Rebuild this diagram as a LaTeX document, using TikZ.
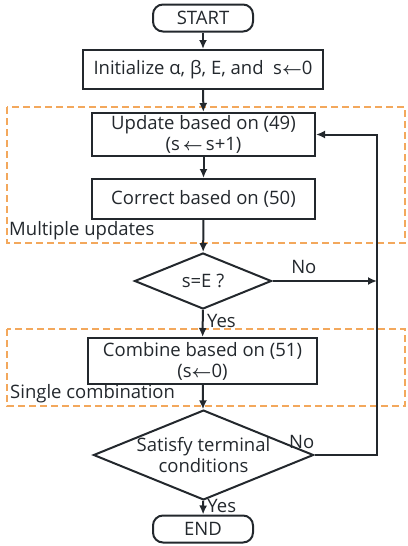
\documentclass[tikz,border=0pt]{standalone}
\usepackage{amsmath}
\usepackage{fontspec}
\setmainfont{Open Sans}
\usetikzlibrary{shapes.geometric,arrows.meta}
\definecolor{grouporange}{RGB}{243,168,92}
\definecolor{linegray}{RGB}{35,40,45}
\newcommand{\getsarrow}{\(\boldsymbol{\leftarrow}\)}

\begin{document}
\begin{tikzpicture}[
x=1pt,y=-1pt,
font=\fontsize{18.5}{21}\selectfont,
every node/.style={text=linegray},
>={Latex[length=9pt,width=8pt]},
procbox/.style={rectangle, draw=linegray, line width=2pt, minimum width=223pt, minimum height=42pt, align=center, inner sep=2pt},
termbox/.style={rectangle, rounded corners=10pt, draw=linegray, line width=2pt, minimum width=100pt, minimum height=27pt, inner sep=1pt},
decision/.style={diamond, aspect=2.45, draw=linegray, line width=2pt, align=center, inner sep=0pt},
groupbox/.style={draw=grouporange, line width=2pt, dash pattern=on 7pt off 4pt},
flow/.style={->, draw=linegray, line width=2pt}
]
    \useasboundingbox (0,0) rectangle (407,546);

    % dashed groups
    \draw [groupbox] (7,107) rectangle (405,243);
    \draw [groupbox] (7,329) rectangle (405,406);
    \node [anchor=west, inner sep=0pt] (multi) at (9,231) {Multiple updates};
    \node [anchor=west, inner sep=0pt] (single) at (10,394) {Single combination};

    \node [termbox] (start) at (203,18) {START};
    \node [procbox, minimum width=240pt, minimum height=39pt] (init) at (203,69.5) {Initialize α, β, E, and~ s\getsarrow0};
    \node [procbox, minimum height=43pt, inner sep=0pt] (update) at (203.5,134.5) {Update based on (49)\\(s\,\getsarrow\,s+1)};
    \node [procbox, minimum height=40pt] (correct) at (203.5,199) {Correct based on (50)};
    \node [decision, minimum width=137pt, minimum height=56pt] (check) at (203,281) {s=E ?};
    \node [procbox, minimum width=229pt, minimum height=46pt, inner sep=0pt] (combine) at (202.5,361) {Combine based on (51)\\(s\getsarrow0)};
    \node [decision, minimum width=217pt, minimum height=84pt] (stop) at (203.5,455) {Satisfy terminal\\conditions};
    \node [termbox] (end) at (203,529) {END};
    \coordinate (loop) at (377,281);

    \draw [flow] (start) -- (init);
    \draw [flow] (init) -- (update);
    \draw [flow] (update) -- (correct);
    \draw [flow] (correct) -- (check);
    \draw [flow] (check) -- node [right, pos=0.4] {Yes} (combine);
    \draw [flow] (combine) -- (stop);
    \draw [flow] (stop) -- node [right, pos=0.4] {Yes} (end);
    \draw [flow] (check.east) -- node [above=3pt, pos=0.3] {No} (loop);
    \draw [flow] (stop.east) -- (stop.east -| loop) -- (update.east -| loop) -- (update.east);
    \node [above left, inner sep=1pt, xshift=1pt, yshift=5pt] (nolbl) at (stop.east) {No};

\end{tikzpicture}
\end{document}
